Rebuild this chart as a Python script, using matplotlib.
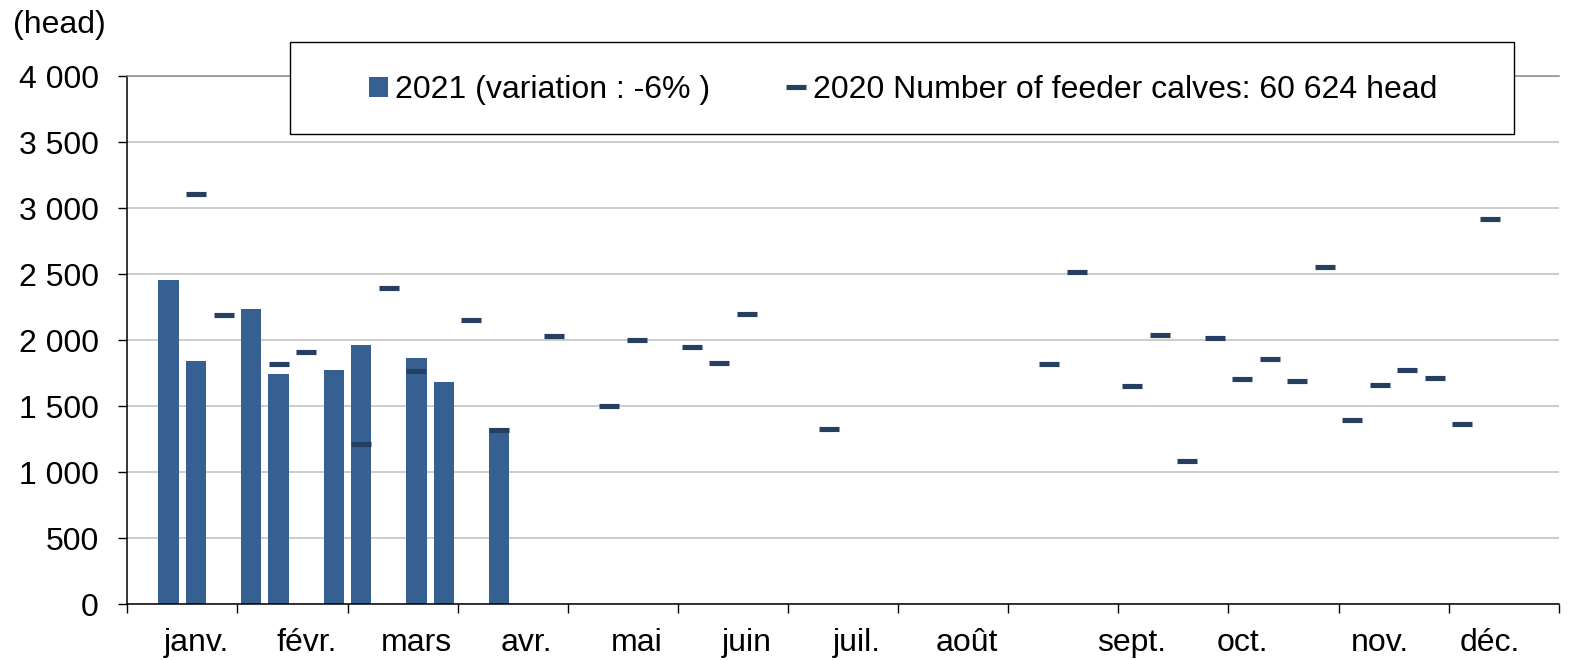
import matplotlib
matplotlib.use("Agg")
import matplotlib.pyplot as plt
from matplotlib.patches import Rectangle
from matplotlib.ticker import FuncFormatter

plt.rcParams["font.family"] = ["Liberation Sans", "DejaVu Sans"]
plt.rcParams["font.size"] = 23

# ==========================================================
# DATA (weekly categories, index 0..51)
# ==========================================================
n_weeks = 52

weeks_2021 = [1, 2, 4, 5, 7, 8, 10, 11, 13]
head_2021 = [2457, 1841, 2237, 1742, 1775, 1960, 1864, 1684, 1331]

weeks_2020 = [2, 3, 5, 6, 8, 9, 10, 12, 13, 15, 17, 18, 20, 21, 22, 25,
              33, 34, 36, 37, 38, 39, 40, 41, 42, 43, 44, 45, 46, 47, 48, 49]
head_2020 = [3110, 2190, 1815, 1912, 1215, 2395, 1765, 2150, 1318, 2028, 1497, 2000,
             1947, 1826, 2195, 1328,
             1818, 2518, 1650, 2040, 1083, 2018, 1702, 1857, 1692, 2551, 1396, 1659,
             1775, 1710, 1364, 2914]

month_labels = ["janv.", "févr.", "mars", "avr.", "mai", "juin",
                "juil.", "août", "sept.", "oct.", "nov.", "déc."]
month_label_weeks = [2, 6, 10, 14, 18, 22, 26, 30, 36, 40, 45, 49]

label_2021 = "2021 (variation : -6% )"
label_2020 = "2020 Number of feeder calves: 60 624 head"

bar_color = "#376092"
mark_color = "#243F60"

# ==========================================================
# FIGURE
# ==========================================================
fig = plt.figure(figsize=(15.83, 6.6), dpi=100)
ax = fig.add_axes([0.0804, 0.0848, 0.9043, 0.8000])

bars = ax.bar(weeks_2021, head_2021, width=0.74, color=bar_color, zorder=2)
marks, = ax.plot(weeks_2020, head_2020, ls="none", marker="_", ms=14.8, mew=3.7,
                 color=mark_color, zorder=3)

ax.set_xlim(-0.5, n_weeks - 0.5)
ax.set_ylim(0, 4000)

# y axis
ax.set_yticks(range(0, 4001, 500))
ax.yaxis.set_major_formatter(FuncFormatter(lambda v, p: f"{int(v):,}".replace(",", " ")))
ax.tick_params(axis="y", direction="out", length=6.5, width=1, pad=14, color="black")
ax.grid(axis="y", color="#BFBFBF", lw=1.1, zorder=0)

# x axis: ticks between month groups, labels placed separately
ax.set_xticks([i - 0.5 for i in range(0, n_weeks + 1, 4)])
ax.set_xticklabels([])
ax.tick_params(axis="x", which="major", direction="out", length=6.5, width=1, color="black")
ax.set_xticks(month_label_weeks, minor=True)
ax.set_xticklabels(month_labels, minor=True)
ax.tick_params(axis="x", which="minor", length=0, pad=17)

ax.spines["right"].set_visible(False)
ax.spines["top"].set_color("#8C8C8C")
ax.spines["top"].set_linewidth(1.1)
ax.spines["left"].set_linewidth(1.1)
ax.spines["bottom"].set_linewidth(1.1)

fig.text(13 / 1583, 1 - 25 / 660, "(head)", ha="left", va="center", fontsize=23)

# legend box
box = Rectangle((290 / 1583, 1 - 134 / 660), 1224 / 1583, 92 / 660,
                transform=fig.transFigure, facecolor="white", edgecolor="black",
                lw=1.0, zorder=5)
fig.patches.append(box)

leg = fig.legend([bars, marks], [label_2021, label_2020], loc="center", ncol=2,
                 bbox_to_anchor=(903 / 1583, 1 - 90 / 660),
                 frameon=False, fontsize=23, handlelength=0.6, handleheight=0.6,
                 handletextpad=0.22, columnspacing=2.4, borderpad=0)
leg.set_zorder(6)

fig.savefig("out.png", dpi=100)
